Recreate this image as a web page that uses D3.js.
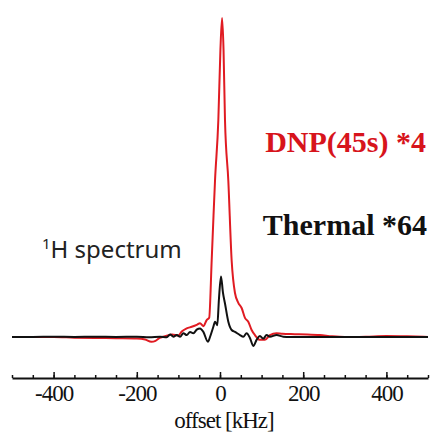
<!DOCTYPE html>
<html>
<head>
<meta charset="utf-8">
<script src="https://cdn.jsdelivr.net/npm/d3@7"></script>
<style>
  body { margin: 0; background: #fff; }
  svg { display: block; }
</style>
</head>
<body>
<svg id="chart" width="432" height="434"></svg>
<script>
// offset in kHz, intensity in arbitrary units (DNP peak = 100)
const dnpOffset = [-500, -450, -400, -350, -300, -250, -200, -180, -165, -155, -145, -130, -115, -100,
  -92, -80, -68, -56, -48, -40, -32, -26, -20, -15.6, -12, -4, 1, 5, 8.5, 12, 20, 28, 36, 44, 52,
  60, 68, 76, 84, 96, 108, 120, 136, 150, 180, 210, 240, 270, 300, 350, 400, 450, 500]
const dnpValue = [0, 0, 0, -0.2, -0.3, -0.4, -0.5, -0.8, -1.5, -1.2, -0.3, 0.3, 0.8, 0.5,
  1.7, 2.7, 3.2, 3.8, 4.3, 3.4, 5.3, 6, 24, 38, 49, 68, 90, 100, 90, 68, 49, 24, 13.8, 10.7, 9.1,
  6, 4.8, 2.2, 0.6, -0.9, -0.9, 0.6, 1.2, 1, 0.9, 0.8, 0.6, 0.2, 0, 0.1, 0.3, 0.2, 0]

const thermalOffset = [-500, -450, -400, -350, -300, -250, -200, -170, -144, -128, -120, -112, -104,
  -96, -88, -80, -72, -64, -56, -48, -40, -29, -24, -16, -12, -6.5, -2.5, 2.4, 7, 12, 20, 28, 36,
  48, 56, 64, 72, 80, 88, 96, 104, 112, 120, 136, 152, 168, 200, 250, 300, 350, 400, 450, 500]
const thermalValue = [0, 0, 0.1, 0, 0.1, 0, 0.1, -0.1, 0.1, -0.1, 0.8, 0.1, 0.6,
  0.1, 1.2, 0.6, 1.6, 1.2, 2.3, 2.7, 1.6, -1.5, 0, 3.2, 4.8, 3.7, 12, 19, 14, 10.5, 4.8, 2.2, 1.6,
  0.6, 0.1, 1.2, -0.3, -2.8, -0.9, 0.3, -0.5, 0.6, 0.1, 0.6, 0.1, 0, 0, 0, 0, 0, 0, 0, 0]

const majorTicks = [-400, -200, 0, 200, 400]
const minorTicks = d3.range(-500, 501, 50)

const serif = '"Liberation Serif", "Times New Roman", Times, serif'

const svg = d3.select('#chart')

const x = d3.scaleLinear().domain([-500, 500]).range([12, 428])
const y = d3.scaleLinear().domain([0, 100]).range([337, 18])

const line = d3.line()
  .x(d => x(d[0]))
  .y(d => y(d[1]))
  .curve(d3.curveMonotoneX)

// DNP trace underneath, thermal on top
svg.append('path')
  .datum(d3.zip(dnpOffset, dnpValue))
  .attr('d', line)
  .attr('fill', 'none')
  .attr('stroke', '#e01b22')
  .attr('stroke-width', 2)
  .attr('stroke-linejoin', 'round')

svg.append('path')
  .datum(d3.zip(thermalOffset, thermalValue))
  .attr('d', line)
  .attr('fill', 'none')
  .attr('stroke', '#111')
  .attr('stroke-width', 2)
  .attr('stroke-linejoin', 'round')

// axis: ticks pointing up, labels below
const axisY = 378
const minorAxis = d3.axisBottom(x).tickValues(minorTicks).tickSize(-3).tickFormat('')
const majorAxis = d3.axisBottom(x).tickValues(majorTicks).tickSizeInner(-6).tickSizeOuter(0)
  .tickFormat(d => String(d))

const gMinor = svg.append('g').attr('transform', `translate(0,${axisY})`).call(minorAxis)
gMinor.select('.domain').remove()
gMinor.selectAll('line').attr('stroke', '#111').attr('stroke-width', 1.5)

const gMajor = svg.append('g').attr('transform', `translate(0,${axisY})`).call(majorAxis)
gMajor.attr('font-family', serif).attr('font-size', 23)
gMajor.select('.domain').attr('stroke', '#111').attr('stroke-width', 2)
gMajor.selectAll('line').attr('stroke', '#111').attr('stroke-width', 1.5)
gMajor.selectAll('text')
  .attr('fill', '#111')
  .attr('letter-spacing', -1)
  .attr('dy', null)
  .attr('y', 23)

svg.append('text')
  .attr('x', 224)
  .attr('y', 428)
  .attr('text-anchor', 'middle')
  .attr('font-family', serif)
  .attr('font-size', 23)
  .attr('letter-spacing', -1)
  .attr('fill', '#111')
  .text('offset [kHz]')

// labels
svg.append('text')
  .attr('x', 426)
  .attr('y', 152)
  .attr('text-anchor', 'end')
  .attr('font-family', serif)
  .attr('font-weight', 'bold')
  .attr('font-size', 30)
  .attr('fill', '#d7141c')
  .text('DNP(45s) *4')

svg.append('text')
  .attr('x', 427)
  .attr('y', 235)
  .attr('text-anchor', 'end')
  .attr('font-family', serif)
  .attr('font-weight', 'bold')
  .attr('font-size', 30)
  .attr('fill', '#111')
  .text('Thermal *64')

const hLabel = svg.append('text')
  .attr('x', 42)
  .attr('y', 258)
  .attr('font-family', '"Noto Sans", "Open Sans", sans-serif')
  .attr('font-size', 24)
  .attr('fill', '#222')
hLabel.append('tspan').attr('font-size', 15).attr('dy', -9).text('1')
hLabel.append('tspan').attr('dy', 9).text('H spectrum')
</script>
</body>
</html>
